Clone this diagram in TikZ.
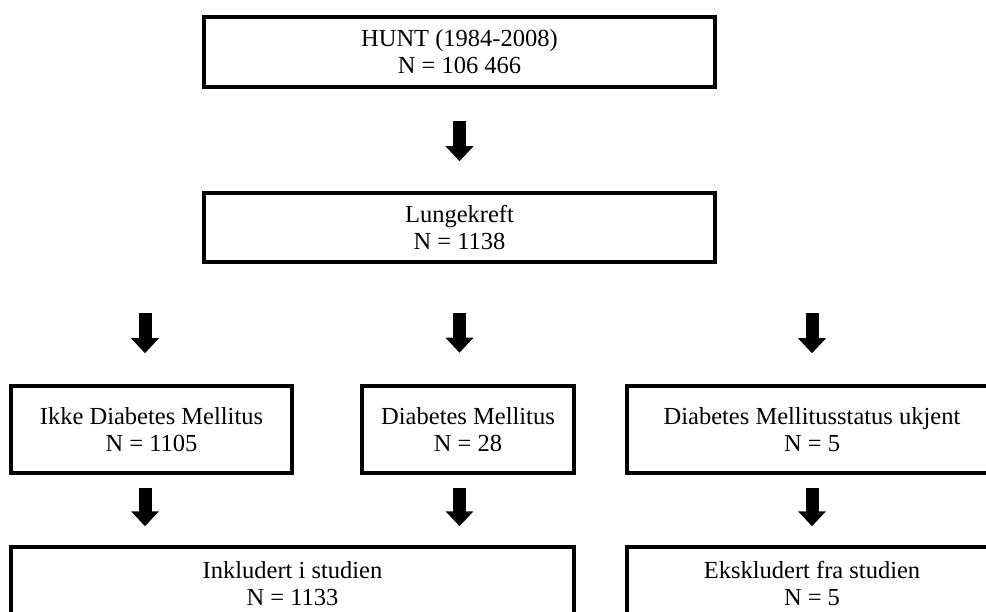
\documentclass[tikz,border=0pt]{standalone}
\usepackage{fontspec}
\setmainfont{Liberation Serif}
\usetikzlibrary{arrows.meta,calc}
\begin{document}
\begin{tikzpicture}[x=1pt,y=-1pt,
  box/.style={draw=black, line width=3.5pt, inner sep=0pt, rectangle, align=center,
    font=\fontsize{24.5}{27}\selectfont},
  txt/.style={inner sep=0pt, align=center, font=\fontsize{24.5}{27}\selectfont},
  blk/.style={line width=13pt, -{Triangle[width=27pt,length=15pt]}}]
\useasboundingbox (0,0) rectangle (986,612);
\fill[white] (0,0) rectangle (986,612);
\clip (0,0) rectangle (986,612);
% boxes
\node[box, minimum width=511pt, minimum height=70pt] (hunt) at (459.5,52) {HUNT (1984-2008)\\N = 106 466};
\node[box, minimum width=511pt, minimum height=69pt] (lunge) at (459.5,227.5) {Lungekreft\\N = 1138};
\node[box, minimum width=281pt, minimum height=87pt] (ikke) at (151.5,429.5) {Ikke Diabetes Mellitus\\N = 1105};
\node[box, minimum width=212pt, minimum height=87pt] (dm) at (468,429.5) {Diabetes Mellitus\\N = 28};
\node[box, minimum width=370pt, minimum height=87pt] (ukj) at (812,429.5) {Diabetes Mellitusstatus ukjent\\N = 5};
\node[box, minimum width=563pt, minimum height=133pt] (inkl) at (292.5,613.5) {};
\node[box, minimum width=370pt, minimum height=133pt] (eks) at (812,613.5) {};
\node[txt] (inkltxt) at ($(inkl.north)+(0,38)$) {Inkludert i studien\\N = 1133};
\node[txt] (ekstxt) at ($(eks.north)+(0,38)$) {Ekskludert fra studien\\N = 5};
% arrows
\draw[blk] ($(hunt.south)+(0,32)$) -- ($(lunge.north)+(0,-30)$);
\draw[blk] ($(lunge.south -| ikke.north)+(-6.5,49)$) -- ($(ikke.north)+(-6.5,-31)$);
\draw[blk] ($(lunge.south)+(0,49)$) -- ($(lunge.south)+(0,89)$);
\draw[blk] ($(lunge.south -| ukj.north)+(0,49)$) -- ($(ukj.north)+(0,-31)$);
\draw[blk] ($(ikke.south)+(-6.5,13)$) -- ($(inkl.north -| ikke.south)+(-6.5,-19)$);
\draw[blk] ($(ikke.south -| lunge.south)+(0,13)$) -- ($(inkl.north -| lunge.south)+(0,-19)$);
\draw[blk] ($(ukj.south)+(0,13)$) -- ($(eks.north)+(0,-19)$);
\end{tikzpicture}
\end{document}
